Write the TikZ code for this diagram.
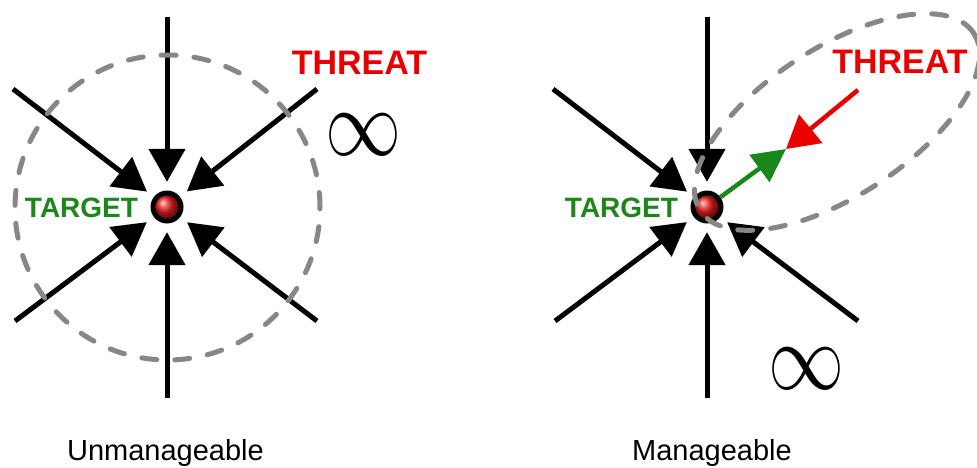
\documentclass[tikz,border=0pt]{standalone}
\usepackage{graphicx}
\usepackage{fontspec}
\setmainfont{Liberation Sans}
\usetikzlibrary{arrows.meta}
\definecolor{tgreen}{RGB}{25,135,25}
\definecolor{tred}{RGB}{235,0,0}
\definecolor{dgray}{RGB}{135,135,135}
\definecolor{ballred}{RGB}{240,30,30}
\newcommand{\infsym}{\scalebox{7.6}[9.6]{$\infty$}}
\begin{document}
\begin{tikzpicture}[x=1pt,y=1pt,
  attack/.style={line width=5pt, -{Triangle[length=33pt,width=36pt]}},
  zone/.style={circle, minimum size=50pt, inner sep=0pt, draw=none},
  dotring/.style={circle, fill=black, minimum size=33pt, inner sep=0pt},
  ballc/.style={circle, minimum size=23pt, inner sep=0pt, shading=ball, ball color=ballred},
  dashline/.style={draw=dgray, line width=5pt, dash pattern=on 15pt off 18pt, line cap=round},
  threat/.style={text=tred, font=\bfseries\fontsize{34}{40}\selectfont, anchor=base, inner sep=0pt},
  target/.style={text=tgreen, font=\bfseries\fontsize{28}{34}\selectfont, anchor=base, inner sep=0pt},
  caption/.style={font=\fontsize{29}{35}\selectfont, anchor=base, inner sep=0pt},
  inf/.style={inner sep=0pt, anchor=base}
]
\useasboundingbox[fill=white] (0,0) rectangle (977,-468);

% ---------- left panel ----------
\node[zone] (z1) at (167,-207) {};
\coordinate (l1) at (167,-17);
\coordinate (l2) at (13,-89);
\coordinate (l3) at (317,-89);
\coordinate (l4) at (15,-321);
\coordinate (l5) at (317,-321);
\coordinate (l6) at (167,-398);
\foreach \s in {l1,l2,l3,l4,l5,l6} \draw[attack] (\s) -- (z1);
\node[dotring] (t1) at (167,-207) {};
\node[ballc] (b1) at (t1) {};
\draw[dashline] (167.5,-207.5) circle (152.5);
\node[threat] (th1) at (359.5,-75) {THREAT};
\node[target] (tg1) at (81.5,-217) {TARGET};
\node[inf] (inf1) at (363,-155) {\infsym};
\node[caption] (c1) at (165.5,-460) {Unmanageable};

% ---------- right panel ----------
\node[zone] (z2) at (707,-207) {};
\coordinate (r1) at (707,-17);
\coordinate (r2) at (553,-89);
\coordinate (r4) at (555,-321);
\coordinate (r5) at (858,-321);
\coordinate (r6) at (707,-398);
\foreach \s in {r1,r2,r4,r5,r6} \draw[attack] (\s) -- (z2);
\node[dotring] (t2) at (707,-207) {};
\node[ballc] (b2) at (t2) {};
\coordinate (meet) at (786,-149);
\coordinate (rs) at (858,-90);
\draw[tgreen, line width=4.5pt, -{Triangle[length=33pt,width=33pt]}] (t2) -- (meet);
\draw[tred, line width=4.5pt, -{Triangle[length=32pt,width=36pt]}] (rs) -- (meet);
\draw[dashline] (837,-122) ellipse [x radius=163, y radius=74, rotate=33];
\node[threat] (th2) at (900,-74) {THREAT};
\node[target] (tg2) at (621.5,-217) {TARGET};
\node[inf] (inf2) at (806,-389) {\infsym};
\node[caption] (c2) at (712,-460) {Manageable};
\end{tikzpicture}
\end{document}
